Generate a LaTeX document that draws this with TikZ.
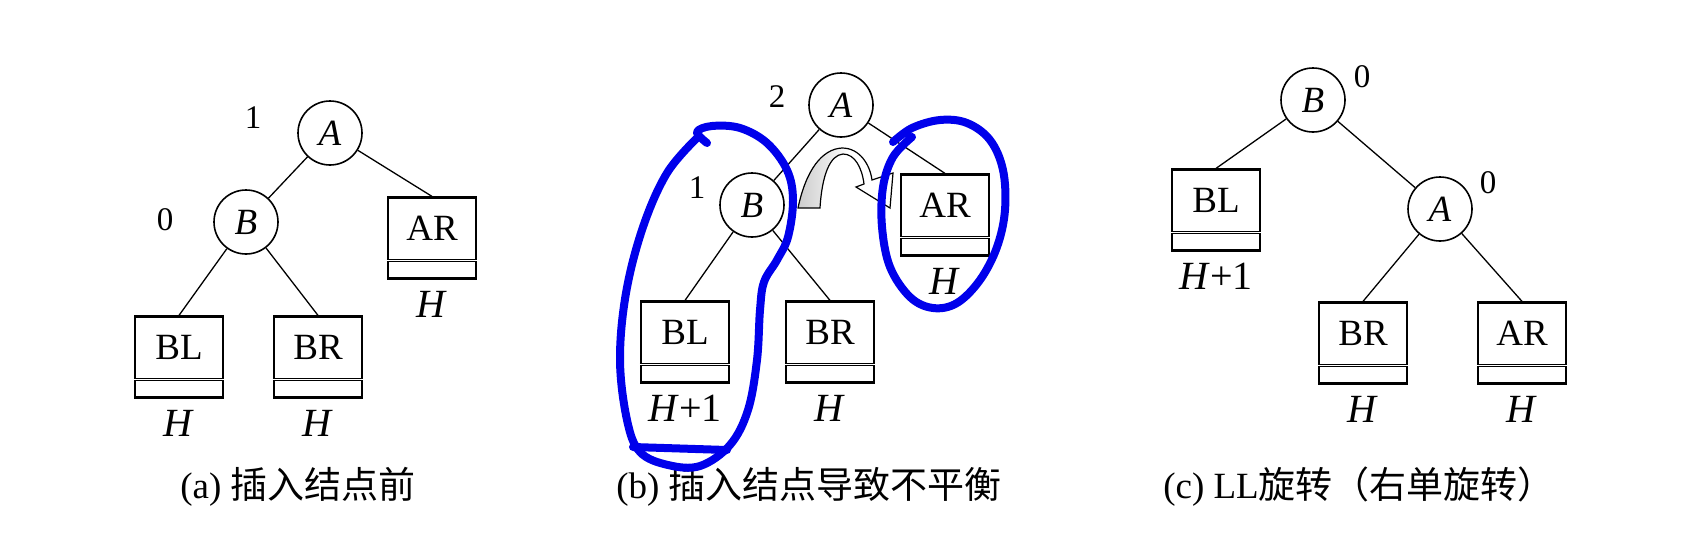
\documentclass[tikz,border=0pt]{standalone}
\usepackage{fontspec}
\setmainfont{Liberation Serif}
\newfontfamily\cjk{Noto Sans CJK SC}
\definecolor{pen}{RGB}{0,0,235}
\tikzset{
  circ/.style={draw, circle, minimum size=64pt, inner sep=0pt, line width=1.6pt, font=\fontsize{37}{37}\selectfont\itshape},
  tb/.style={draw, rectangle, minimum width=88pt, minimum height=81pt, line width=2.2pt, inner sep=0pt},
  tbt/.style={font=\fontsize{37}{37}\selectfont, inner sep=0pt},
  hl/.style={font=\fontsize{40}{40}\selectfont, inner sep=0pt},
  bfac/.style={font=\fontsize{33}{33}\selectfont, inner sep=0pt},
  edge/.style={line width=1.3pt},
  divider/.style={line width=0.9pt, double, double distance=1.6pt},
  captext/.style={font=\fontsize{37}{37}\selectfont, inner sep=0pt},
  penline/.style={draw=pen, line width=8pt, line cap=round, line join=round},
}
\newcommand\treebox[4]{%
  \node[tb] (#1) at (#2) {};
  \node[tbt] (#1t) at ([yshift=10pt]#1.center) {#3};
  \draw[divider] ([yshift=19pt]#1.south west) -- ([yshift=19pt]#1.south east);
  \node[hl] (#1h) at ([yshift=-25pt]#1.south) {#4};
}
\begin{document}
\begin{tikzpicture}[x=1pt,y=-1pt]
\useasboundingbox (0,0) rectangle (1688,541);
\fill[white] (0,0) rectangle (1688,541);

% ---------- (a)
\node[circ] (aA) at (330,133) {A};
\node[circ] (aB) at (246,222) {B};
\treebox{aAR}{432,238}{AR}{\textit{H}}
\treebox{aBL}{179,357}{BL}{\textit{H}}
\treebox{aBR}{318,357}{BR}{\textit{H}}
\node[bfac] (a1) at (253,118) {1};
\node[bfac] (a0) at (165,220) {0};
\draw[edge] (aA) -- (aB);
\draw[edge] (aA) -- (aAR.north);
\draw[edge] (aB) -- (aBL.north);
\draw[edge] (aB) -- (aBR.north);
\node[captext] (capa) at (298,487) {(a) {\cjk 插入结点前}};

% ---------- (b)
\node[circ] (bA) at (841,105) {A};
\node[circ] (bB) at (752,205) {B};
\treebox{bAR}{945,215}{AR}{\textit{H}}
\treebox{bBL}{685,342}{BL}{\textit{H}+1}
\treebox{bBR}{830,342}{BR}{\textit{H}}
\node[bfac] (b2) at (777,97) {2};
\node[bfac] (b1) at (697,188) {1};
\draw[edge] (bA) -- (bB);
\draw[edge] (bA) -- (bAR.north);
\draw[edge] (bB) -- (bBL.north);
\draw[edge] (bB) -- (bBR.north);
% curved rotation arrow
\path[fill=white] (798,208) .. controls (806,170) and (822,149) .. (842,148)
   .. controls (860,148) and (870,165) .. (872,180) -- (893,173) -- (890,208) -- (856,187) -- (864,184)
   .. controls (862,168) and (855,154) .. (843,154)
   .. controls (830,155) and (822,175) .. (820,208) -- cycle;
\shade[left color=gray!40, right color=white] (798,208) .. controls (806,170) and (822,149) .. (842,148)
   .. controls (850,150) .. (843,154)
   .. controls (830,155) and (822,175) .. (820,208) -- cycle;
\draw[line width=1.2pt, line join=miter] (798,208) .. controls (806,170) and (822,149) .. (842,148)
   .. controls (860,148) and (870,165) .. (872,180) -- (893,173) -- (890,208) -- (856,187) -- (864,184)
   .. controls (862,168) and (855,154) .. (843,154)
   .. controls (830,155) and (822,175) .. (820,208) -- cycle;
\node[captext] (capb) at (809,487) {(b) {\cjk 插入结点导致不平衡}};

% ---------- (c)
\node[circ] (cB) at (1313,100) {B};
\node[circ] (cA) at (1440,209) {A};
\treebox{cBL}{1216,210}{BL}{\textit{H}+1}
\treebox{cBR}{1363,343}{BR}{\textit{H}}
\treebox{cAR}{1522,343}{AR}{\textit{H}}
\node[bfac] (c0a) at (1362,77) {0};
\node[bfac] (c0b) at (1488,183) {0};
\draw[edge] (cB) -- (cBL.north);
\draw[edge] (cB) -- (cA);
\draw[edge] (cA) -- (cBR.north);
\draw[edge] (cA) -- (cAR.north);
\node[captext] (capc) at (1359,487) {(c) LL{\cjk 旋转（右单旋转）}};

% ---------- blue hand-drawn loops
\draw[penline] plot[smooth, tension=0.6] coordinates {
  (707,143) (697,132) (712,126) (740,128) (767,143) (787,170) (793,200)
  (788,237) (777,260) (764,282) (760,310) (757,360) (748,410) (730,445)
  (700,466) (668,465) (640,452) (627,420) (620,360) (626,293) (643,227)
  (667,173) (697,138)};
\draw[penline] (633,447) -- (727,450);
\draw[penline] plot[smooth, tension=0.6] coordinates {
  (893,142) (912,128) (940,120) (967,123) (990,140) (1003,170) (1005,210)
  (997,247) (980,280) (957,303) (933,308) (910,297) (890,267) (882,227)
  (883,187) (893,157) (912,137)};
\end{tikzpicture}
\end{document}
